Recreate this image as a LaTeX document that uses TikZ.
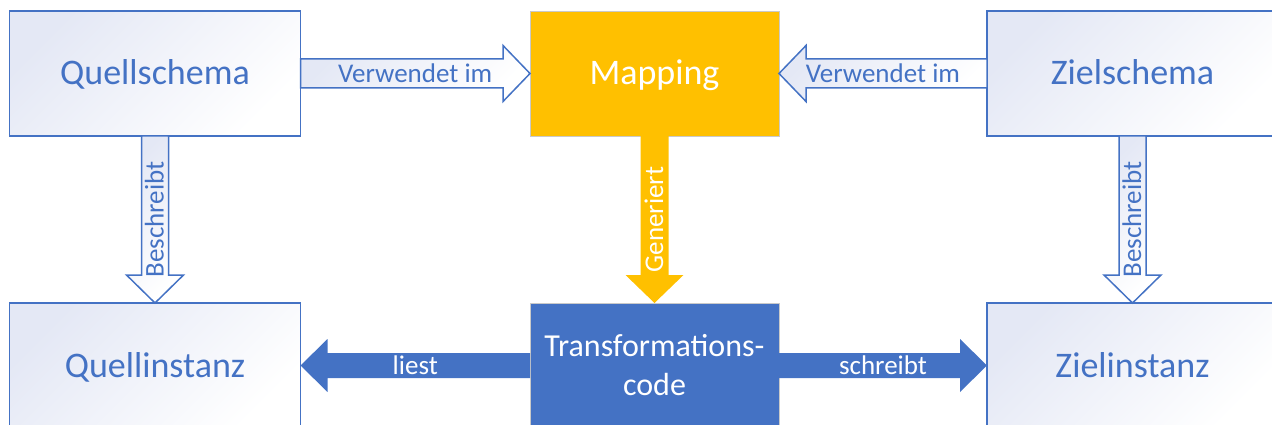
\documentclass[tikz,border=0pt]{standalone}
\usepackage{fontspec}
\setmainfont{Carlito}
\usetikzlibrary{calc}

\definecolor{accent}{HTML}{4472C4}
\definecolor{gold}{HTML}{FFC000}
\definecolor{lav}{HTML}{E4E8F5}
\definecolor{rim}{HTML}{C9C9C9}

\tikzset{
  paleshade/.style={top color=lav, bottom color=white, shading angle=45},
  box/.style={draw=accent, line width=1.5, paleshade, minimum width=291,
    minimum height=125, inner sep=0, outer sep=0, text=accent,
    text height=23pt, text depth=0pt, font=\fontsize{36}{40}\selectfont},
  goldbox/.style={draw=rim, line width=0.8, fill=gold, minimum width=249,
    minimum height=125, inner sep=0, outer sep=0, text=white,
    text height=23pt, text depth=0pt, font=\fontsize{36}{40}\selectfont},
  bluebox/.style={draw=rim, line width=0.8, fill=accent, minimum width=249,
    minimum height=125, inner sep=0, outer sep=0, text=white, align=center,
    font=\fontsize{32}{39}\selectfont},
  hollowarrow/.style={draw=accent, line width=1.5, line join=miter, paleshade},
  goldarrow/.style={fill=gold},
  bluearrow/.style={fill=accent},
  lbl/.style={inner sep=0, text height=17.3pt, text depth=0pt,
    font=\fontsize{27}{30}\selectfont},
}

% horizontal block arrow: style, start, tip, direction (1 = right, -1 = left),
% shaft half width, head half width, head length
\newcommand\blockarrowh[7]{%
  \path[#1] ($(#2)+(0,-#5)$) -- ($(#3)+(-#7*#4,-#5)$) -- ($(#3)+(-#7*#4,-#6)$)
    -- (#3) -- ($(#3)+(-#7*#4,#6)$) -- ($(#3)+(-#7*#4,#5)$)
    -- ($(#2)+(0,#5)$) -- cycle;}
% vertical block arrow pointing down: style, start, tip,
% shaft half width, head half width, head length
\newcommand\blockarrowv[6]{%
  \path[#1] ($(#2)+(-#4,0)$) -- ($(#3)+(-#4,-#6)$) -- ($(#3)+(-#5,-#6)$)
    -- (#3) -- ($(#3)+(#5,-#6)$) -- ($(#3)+(#4,-#6)$)
    -- ($(#2)+(#4,0)$) -- cycle;}

\begin{document}
\begin{tikzpicture}[x=1pt, y=-1pt]
  \useasboundingbox (0,0) rectangle (1272,425);
  \clip (0,0) rectangle (1272,425);

  % top row
  \node[box]     (qs)  at (155,73.5)    {Quellschema};
  \node[goldbox] (map) at (654.5,73.5)  {Mapping};
  \node[box]     (zs)  at (1132.5,73.5) {Zielschema};

  % bottom row
  \node[box]      (qi) at (155,365.5)    {Quellinstanz};
  \node[bluebox]  (tc) at (654.5,365.5)  {Transformations-\\code};
  \node[box]      (zi) at (1132.5,365.5) {Zielinstanz};

  % schema usage
  \blockarrowh{hollowarrow}{qs.east}{map.west}{1}{14.5}{28}{27}
  \node[lbl, text=accent] (v1) at ($(qs.east)!0.5!(map.west)$) {Verwendet im};
  \blockarrowh{hollowarrow}{zs.west}{map.east}{-1}{14.5}{28}{27}
  \node[lbl, text=accent] (v2) at ($(zs.west)!0.5!(map.east)$) {Verwendet im};

  % schema describes instance
  \blockarrowv{hollowarrow}{qs.south}{qi.north}{13.5}{28.5}{28}
  \node[lbl, text=accent, rotate=90] (b1) at ($(qs.south)!0.5!(qi.north)$) {Beschreibt};
  \blockarrowv{hollowarrow}{zs.south}{zi.north}{13.5}{28.5}{28}
  \node[lbl, text=accent, rotate=90] (b2) at ($(zs.south)!0.5!(zi.north)$) {Beschreibt};

  % code generation
  \blockarrowv{goldarrow}{map.south}{tc.north}{14}{29}{28}
  \node[lbl, text=white, rotate=90] (g) at ($(map.south)!0.5!(tc.north)$) {Generiert};

  % reading and writing
  \blockarrowh{bluearrow}{tc.west}{qi.east}{-1}{12.5}{26.5}{27}
  \node[lbl, text=white] (l) at ($(tc.west)!0.5!(qi.east)$) {liest};
  \blockarrowh{bluearrow}{tc.east}{zi.west}{1}{12.5}{26.5}{27}
  \node[lbl, text=white] (s) at ($(tc.east)!0.5!(zi.west)$) {schreibt};
\end{tikzpicture}
\end{document}
